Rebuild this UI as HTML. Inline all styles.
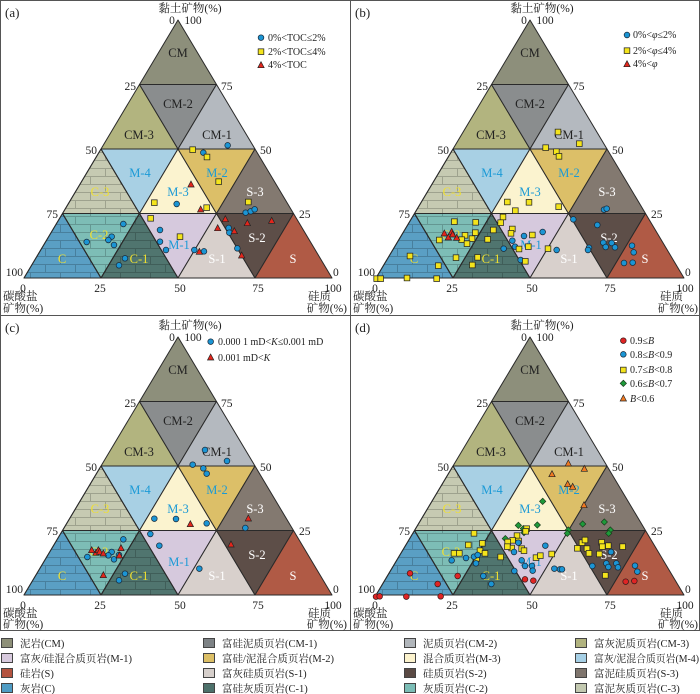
<!DOCTYPE html>
<html><head><meta charset="utf-8"><style>
html,body{margin:0;padding:0;background:#fff;}
svg{display:block;font-family:"Liberation Serif","Noto Serif CJK SC",serif;}
.tk{font-size:11.5px;fill:#222;}
.lb{font-size:12.5px;text-anchor:middle;}
.lg{font-size:10px;fill:#222;}
.leg{font-size:10.5px;fill:#222;}
</style></head><body>
<svg width="700" height="694" viewBox="0 0 700 694" xmlns="http://www.w3.org/2000/svg">
<defs>
<pattern id="brick" patternUnits="userSpaceOnUse" width="30" height="16">
<path d="M0,0.5H30M0,8.5H30M0.5,0V8.5M15.5,8.5V16" stroke="rgba(0,0,0,0.2)" stroke-width="1" fill="none"/>
</pattern>
<g id="tri" stroke="#2a2a2a" stroke-width="1" stroke-linejoin="round">
<polygon fill="#8d8f7b" points="178,20 139.5,84.5 216.5,84.5"/>
<polygon fill="#b2b47f" points="139.5,84.5 101,149 178,149"/>
<polygon fill="#8a8d8e" points="139.5,84.5 216.5,84.5 178,149"/>
<polygon fill="#b4b9bf" points="216.5,84.5 178,149 255,149"/>
<polygon fill="#c6cab2" points="101,149 62.5,213.5 139.5,213.5"/>
<polygon fill="#a8d0e4" points="101,149 178,149 139.5,213.5"/>
<polygon fill="#fbf3cf" points="178,149 139.5,213.5 216.5,213.5"/>
<polygon fill="#dcbf68" points="178,149 255,149 216.5,213.5"/>
<polygon fill="#837970" points="255,149 216.5,213.5 293.5,213.5"/>
<polygon fill="#5a9fc4" points="62.5,213.5 24,278 101,278"/>
<polygon fill="#7dbdb6" points="62.5,213.5 139.5,213.5 101,278"/>
<polygon fill="#50756f" points="139.5,213.5 101,278 178,278"/>
<polygon fill="#d6c9dd" points="139.5,213.5 216.5,213.5 178,278"/>
<polygon fill="#d8d0cc" points="216.5,213.5 178,278 255,278"/>
<polygon fill="#5d4e48" points="216.5,213.5 293.5,213.5 255,278"/>
<polygon fill="#b05a45" points="293.5,213.5 255,278 332,278"/>
<g stroke="none" fill="url(#brick)">
<polygon points="101,149 62.5,213.5 139.5,213.5"/>
<polygon points="62.5,213.5 24,278 101,278"/>
<polygon points="62.5,213.5 139.5,213.5 101,278"/>
<polygon points="139.5,213.5 101,278 178,278"/>
</g>
<g fill="none">
<polygon points="101,149 62.5,213.5 139.5,213.5"/>
<polygon points="62.5,213.5 24,278 101,278"/>
<polygon points="62.5,213.5 139.5,213.5 101,278"/>
<polygon points="139.5,213.5 101,278 178,278"/>
</g>
</g>
<circle id="c" r="8.5" fill="#1b95d4" stroke="#1a2a3a" stroke-width="2.2"/>
<circle id="r" r="8.5" fill="#e02424" stroke="#3a1a1a" stroke-width="2.2"/>
<rect id="s" x="-8.5" y="-8.5" width="17" height="17" fill="#f4e41c" stroke="#222" stroke-width="2.2"/>
<path id="t" d="M0,-10 L9.5,8 L-9.5,8Z" fill="#e3261c" stroke="#222" stroke-width="2"/>
<path id="o" d="M0,-10 L9.5,8 L-9.5,8Z" fill="#f07a22" stroke="#222" stroke-width="2"/>
<path id="g" d="M0,-9.5 L9.5,0 L0,9.5 L-9.5,0Z" fill="#1e9a3a" stroke="#1a3a1a" stroke-width="2"/>
</defs>
<rect x="0" y="0" width="700" height="694" fill="#fff"/>
<g stroke="#555" stroke-width="1" fill="none">
<rect x="0.5" y="0.5" width="699" height="630"/>
<line x1="350.5" y1="0" x2="350.5" y2="630"/>
<line x1="0" y1="315.5" x2="700" y2="315.5"/>
</g>

<!-- Panel A -->
<use href="#tri"/>
<g>
<text class="tk" x="190" y="12" text-anchor="middle">黏土矿物(%)</text>
<text class="tk" x="5" y="17" style="font-size:13px">(a)</text>
<text class="tk" x="172" y="24" text-anchor="middle">0</text><text class="tk" x="193" y="24" text-anchor="middle">100</text>
<text class="tk" x="136" y="90" text-anchor="end">25</text><text class="tk" x="97" y="154" text-anchor="end">50</text><text class="tk" x="58" y="218" text-anchor="end">75</text><text class="tk" x="23" y="276" text-anchor="end">100</text>
<text class="tk" x="221" y="90">75</text><text class="tk" x="260" y="154">50</text><text class="tk" x="299" y="218">25</text><text class="tk" x="333" y="276">0</text>
<text class="tk" x="23" y="292" text-anchor="middle">0</text><text class="tk" x="100" y="292" text-anchor="middle">25</text><text class="tk" x="180" y="292" text-anchor="middle">50</text><text class="tk" x="258" y="292" text-anchor="middle">75</text><text class="tk" x="333" y="292" text-anchor="middle">100</text>
<text class="tk" x="3" y="300">碳酸盐</text><text class="tk" x="3" y="312">矿物(%)</text>
<text class="tk" x="331" y="300" text-anchor="end">硅质</text><text class="tk" x="347" y="312" text-anchor="end">矿物(%)</text>
<text class="lb" x="178" y="57" fill="#222">CM</text><text class="lb" x="178" y="108" fill="#222">CM-2</text><text class="lb" x="139" y="139" fill="#222">CM-3</text><text class="lb" x="217" y="139" fill="#222">CM-1</text>
<text class="lb" x="140" y="177" fill="#1b9ad6">M-4</text><text class="lb" x="178" y="196" fill="#1b9ad6">M-3</text><text class="lb" x="217" y="177" fill="#1b9ad6">M-2</text><text class="lb" x="100" y="196" fill="#f0e030">C-3</text><text class="lb" x="255" y="196" fill="#fff">S-3</text>
<text class="lb" x="62" y="263" fill="#f0e030">C</text><text class="lb" x="99" y="239" fill="#f0e030">C-2</text><text class="lb" x="139" y="263" fill="#f0e030">C-1</text><text class="lb" x="179" y="249" fill="#1b9ad6">M-1</text><text class="lb" x="217" y="263" fill="#fff">S-1</text><text class="lb" x="257" y="242" fill="#fff">S-2</text><text class="lb" x="293" y="263" fill="#fff">S</text>
</g>
<g transform="scale(0.33333)">
<use href="#c" x="783" y="113"/><use href="#s" x="783" y="155"/><use href="#t" x="783" y="195"/>
<use href="#c" x="683" y="436"/><use href="#c" x="610" y="458"/><use href="#c" x="530" y="612"/><use href="#c" x="480" y="690"/><use href="#c" x="480" y="725"/><use href="#c" x="498" y="750"/><use href="#c" x="583" y="750"/><use href="#c" x="612" y="754"/><use href="#c" x="370" y="672"/><use href="#c" x="335" y="710"/><use href="#c" x="325" y="720"/><use href="#c" x="342" y="735"/><use href="#c" x="260" y="726"/><use href="#c" x="375" y="775"/><use href="#c" x="357" y="796"/><use href="#c" x="686" y="684"/><use href="#c" x="688" y="698"/><use href="#c" x="712" y="745"/><use href="#c" x="737" y="638"/><use href="#c" x="752" y="634"/><use href="#c" x="764" y="628"/>
<use href="#s" x="578" y="449"/><use href="#s" x="621" y="471"/><use href="#s" x="656" y="545"/><use href="#s" x="463" y="608"/><use href="#s" x="620" y="623"/><use href="#s" x="452" y="655"/><use href="#s" x="540" y="710"/><use href="#s" x="745" y="606"/>
<use href="#t" x="573" y="553"/><use href="#t" x="602" y="628"/><use href="#t" x="676" y="657"/><use href="#t" x="653" y="684"/><use href="#t" x="703" y="693"/><use href="#t" x="742" y="669"/><use href="#t" x="815" y="662"/><use href="#t" x="598" y="755"/><use href="#t" x="725" y="766"/>
</g>
<text class="lg" x="268" y="41">0%&lt;TOC≤2%</text><text class="lg" x="268" y="55">2%&lt;TOC≤4%</text><text class="lg" x="268" y="68">4%&lt;TOC</text>

<!-- Panel B -->
<use href="#tri" transform="translate(352,0)"/>
<g transform="translate(352,0)">
<text class="tk" x="190" y="12" text-anchor="middle">黏土矿物(%)</text>
<text class="tk" x="3" y="17" style="font-size:13px">(b)</text>
<text class="tk" x="172" y="24" text-anchor="middle">0</text><text class="tk" x="193" y="24" text-anchor="middle">100</text>
<text class="tk" x="136" y="90" text-anchor="end">25</text><text class="tk" x="97" y="154" text-anchor="end">50</text><text class="tk" x="58" y="218" text-anchor="end">75</text><text class="tk" x="23" y="276" text-anchor="end">100</text>
<text class="tk" x="221" y="90">75</text><text class="tk" x="260" y="154">50</text><text class="tk" x="299" y="218">25</text><text class="tk" x="333" y="276">0</text>
<text class="tk" x="23" y="292" text-anchor="middle">0</text><text class="tk" x="100" y="292" text-anchor="middle">25</text><text class="tk" x="180" y="292" text-anchor="middle">50</text><text class="tk" x="258" y="292" text-anchor="middle">75</text><text class="tk" x="333" y="292" text-anchor="middle">100</text>
<text class="tk" x="1" y="300">碳酸盐</text><text class="tk" x="1" y="312">矿物(%)</text>
<text class="tk" x="331" y="300" text-anchor="end">硅质</text><text class="tk" x="346" y="312" text-anchor="end">矿物(%)</text>
<text class="lb" x="178" y="57" fill="#222">CM</text><text class="lb" x="178" y="108" fill="#222">CM-2</text><text class="lb" x="139" y="139" fill="#222">CM-3</text><text class="lb" x="217" y="139" fill="#222">CM-1</text>
<text class="lb" x="140" y="177" fill="#1b9ad6">M-4</text><text class="lb" x="178" y="196" fill="#1b9ad6">M-3</text><text class="lb" x="217" y="177" fill="#1b9ad6">M-2</text><text class="lb" x="100" y="196" fill="#f0e030">C-3</text><text class="lb" x="255" y="196" fill="#fff">S-3</text>
<text class="lb" x="62" y="263" fill="#f0e030">C</text><text class="lb" x="99" y="239" fill="#f0e030">C-2</text><text class="lb" x="139" y="263" fill="#f0e030">C-1</text><text class="lb" x="179" y="249" fill="#1b9ad6">M-1</text><text class="lb" x="217" y="263" fill="#fff">S-1</text><text class="lb" x="257" y="242" fill="#fff">S-2</text><text class="lb" x="293" y="263" fill="#fff">S</text>
</g>
<g transform="translate(350,0) scale(0.33333)">
<use href="#c" x="831" y="105"/><use href="#s" x="831" y="152"/><use href="#t" x="831" y="192"/>
<use href="#c" x="578" y="696"/><use href="#c" x="522" y="708"/><use href="#c" x="487" y="722"/><use href="#c" x="495" y="740"/><use href="#c" x="461" y="746"/><use href="#c" x="512" y="780"/><use href="#c" x="620" y="750"/><use href="#c" x="670" y="658"/><use href="#c" x="742" y="675"/><use href="#c" x="760" y="728"/><use href="#c" x="785" y="729"/><use href="#c" x="767" y="741"/><use href="#c" x="795" y="742"/><use href="#c" x="717" y="743"/><use href="#c" x="714" y="750"/><use href="#c" x="762" y="629"/><use href="#c" x="770" y="626"/><use href="#c" x="846" y="737"/><use href="#c" x="851" y="757"/><use href="#c" x="822" y="789"/><use href="#c" x="848" y="788"/>
<use href="#s" x="624" y="396"/><use href="#s" x="688" y="431"/><use href="#s" x="587" y="443"/><use href="#s" x="619" y="455"/><use href="#s" x="627" y="469"/><use href="#s" x="472" y="606"/><use href="#s" x="537" y="607"/><use href="#s" x="626" y="620"/><use href="#s" x="496" y="632"/><use href="#s" x="459" y="651"/><use href="#s" x="452" y="668"/><use href="#s" x="487" y="687"/><use href="#s" x="483" y="700"/><use href="#s" x="430" y="690"/><use href="#s" x="313" y="665"/><use href="#s" x="377" y="667"/><use href="#s" x="376" y="698"/><use href="#s" x="345" y="706"/><use href="#s" x="335" y="719"/><use href="#s" x="366" y="716"/><use href="#s" x="351" y="731"/><use href="#s" x="268" y="720"/><use href="#s" x="318" y="773"/><use href="#s" x="383" y="772"/><use href="#s" x="367" y="795"/><use href="#s" x="413" y="718"/><use href="#s" x="547" y="705"/><use href="#s" x="535" y="740"/><use href="#s" x="507" y="747"/><use href="#s" x="526" y="784"/><use href="#s" x="594" y="746"/><use href="#s" x="180" y="768"/><use href="#s" x="265" y="797"/><use href="#s" x="80" y="836"/><use href="#s" x="92" y="836"/><use href="#s" x="171" y="834"/><use href="#s" x="260" y="836"/>
<use href="#t" x="283" y="700"/><use href="#t" x="295" y="712"/><use href="#t" x="305" y="695"/><use href="#t" x="320" y="713"/><use href="#t" x="308" y="703"/>
</g>
<text class="lg" x="633" y="38">0%&lt;<tspan font-style="italic">φ</tspan>≤2%</text><text class="lg" x="633" y="54">2%&lt;<tspan font-style="italic">φ</tspan>≤4%</text><text class="lg" x="633" y="67">4%&lt;<tspan font-style="italic">φ</tspan></text>

<!-- Panel C -->
<use href="#tri" transform="translate(0,317)"/>
<g transform="translate(0,317)">
<text class="tk" x="190" y="12" text-anchor="middle">黏土矿物(%)</text>
<text class="tk" x="5" y="15" style="font-size:13px">(c)</text>
<text class="tk" x="172" y="24" text-anchor="middle">0</text><text class="tk" x="193" y="24" text-anchor="middle">100</text>
<text class="tk" x="136" y="90" text-anchor="end">25</text><text class="tk" x="97" y="154" text-anchor="end">50</text><text class="tk" x="58" y="218" text-anchor="end">75</text><text class="tk" x="23" y="276" text-anchor="end">100</text>
<text class="tk" x="221" y="90">75</text><text class="tk" x="260" y="154">50</text><text class="tk" x="299" y="218">25</text><text class="tk" x="333" y="276">0</text>
<text class="tk" x="23" y="292" text-anchor="middle">0</text><text class="tk" x="100" y="292" text-anchor="middle">25</text><text class="tk" x="180" y="292" text-anchor="middle">50</text><text class="tk" x="258" y="292" text-anchor="middle">75</text><text class="tk" x="333" y="292" text-anchor="middle">100</text>
<text class="tk" x="3" y="300">碳酸盐</text><text class="tk" x="3" y="311">矿物(%)</text>
<text class="tk" x="331" y="300" text-anchor="end">硅质</text><text class="tk" x="347" y="311" text-anchor="end">矿物(%)</text>
<text class="lb" x="178" y="57" fill="#222">CM</text><text class="lb" x="178" y="108" fill="#222">CM-2</text><text class="lb" x="139" y="139" fill="#222">CM-3</text><text class="lb" x="217" y="139" fill="#222">CM-1</text>
<text class="lb" x="140" y="177" fill="#1b9ad6">M-4</text><text class="lb" x="178" y="196" fill="#1b9ad6">M-3</text><text class="lb" x="217" y="177" fill="#1b9ad6">M-2</text><text class="lb" x="100" y="196" fill="#f0e030">C-3</text><text class="lb" x="255" y="196" fill="#fff">S-3</text>
<text class="lb" x="62" y="263" fill="#f0e030">C</text><text class="lb" x="99" y="239" fill="#f0e030">C-2</text><text class="lb" x="139" y="263" fill="#f0e030">C-1</text><text class="lb" x="179" y="249" fill="#1b9ad6">M-1</text><text class="lb" x="217" y="263" fill="#fff">S-1</text><text class="lb" x="257" y="242" fill="#fff">S-2</text><text class="lb" x="293" y="263" fill="#fff">S</text>
</g>
<g transform="translate(0,300) scale(0.33333)">
<use href="#c" x="632" y="125"/><use href="#t" x="632" y="172"/>
<use href="#c" x="615" y="450"/><use href="#c" x="681" y="483"/><use href="#c" x="578" y="494"/><use href="#c" x="610" y="505"/><use href="#c" x="620" y="521"/><use href="#c" x="463" y="656"/><use href="#c" x="528" y="657"/><use href="#c" x="620" y="670"/><use href="#c" x="736" y="684"/><use href="#c" x="451" y="702"/><use href="#c" x="478" y="737"/><use href="#c" x="598" y="806"/><use href="#c" x="370" y="718"/><use href="#c" x="335" y="756"/><use href="#c" x="325" y="766"/><use href="#c" x="342" y="778"/><use href="#c" x="357" y="765"/><use href="#c" x="262" y="771"/><use href="#c" x="375" y="821"/><use href="#c" x="357" y="841"/>
<use href="#t" x="571" y="672"/><use href="#t" x="745" y="655"/><use href="#t" x="693" y="733"/><use href="#t" x="275" y="750"/><use href="#t" x="288" y="758"/><use href="#t" x="295" y="750"/><use href="#t" x="299" y="755"/><use href="#t" x="310" y="760"/><use href="#t" x="363" y="744"/><use href="#t" x="358" y="766"/><use href="#t" x="310" y="825"/>
</g>
<text class="lg" x="218" y="345">0.000 1 mD&lt;<tspan font-style="italic">K</tspan>≤0.001 mD</text><text class="lg" x="218" y="361">0.001 mD&lt;<tspan font-style="italic">K</tspan></text>

<!-- Panel D -->
<use href="#tri" transform="translate(352,317)"/>
<g transform="translate(352,317)">
<text class="tk" x="190" y="12" text-anchor="middle">黏土矿物(%)</text>
<text class="tk" x="3" y="15" style="font-size:13px">(d)</text>
<text class="tk" x="172" y="24" text-anchor="middle">0</text><text class="tk" x="193" y="24" text-anchor="middle">100</text>
<text class="tk" x="136" y="90" text-anchor="end">25</text><text class="tk" x="97" y="154" text-anchor="end">50</text><text class="tk" x="58" y="218" text-anchor="end">75</text><text class="tk" x="23" y="276" text-anchor="end">100</text>
<text class="tk" x="221" y="90">75</text><text class="tk" x="260" y="154">50</text><text class="tk" x="299" y="218">25</text><text class="tk" x="333" y="276">0</text>
<text class="tk" x="23" y="292" text-anchor="middle">0</text><text class="tk" x="100" y="292" text-anchor="middle">25</text><text class="tk" x="180" y="292" text-anchor="middle">50</text><text class="tk" x="258" y="292" text-anchor="middle">75</text><text class="tk" x="333" y="292" text-anchor="middle">100</text>
<text class="tk" x="1" y="300">碳酸盐</text><text class="tk" x="1" y="311">矿物(%)</text>
<text class="tk" x="331" y="300" text-anchor="end">硅质</text><text class="tk" x="346" y="311" text-anchor="end">矿物(%)</text>
<text class="lb" x="178" y="57" fill="#222">CM</text><text class="lb" x="178" y="108" fill="#222">CM-2</text><text class="lb" x="139" y="139" fill="#222">CM-3</text><text class="lb" x="217" y="139" fill="#222">CM-1</text>
<text class="lb" x="140" y="177" fill="#1b9ad6">M-4</text><text class="lb" x="178" y="196" fill="#1b9ad6">M-3</text><text class="lb" x="217" y="177" fill="#1b9ad6">M-2</text><text class="lb" x="100" y="196" fill="#f0e030">C-3</text><text class="lb" x="255" y="196" fill="#fff">S-3</text>
<text class="lb" x="62" y="263" fill="#f0e030">C</text><text class="lb" x="99" y="239" fill="#f0e030">C-2</text><text class="lb" x="139" y="263" fill="#f0e030">C-1</text><text class="lb" x="179" y="249" fill="#1b9ad6">M-1</text><text class="lb" x="217" y="263" fill="#fff">S-1</text><text class="lb" x="257" y="242" fill="#fff">S-2</text><text class="lb" x="293" y="263" fill="#fff">S</text>
</g>
<g transform="translate(350,300) scale(0.33333)">
<use href="#r" x="820" y="122"/><use href="#c" x="820" y="163"/><use href="#s" x="820" y="210"/><use href="#g" x="820" y="250"/><use href="#o" x="820" y="295"/>
<use href="#o" x="655" y="490"/><use href="#o" x="703" y="506"/><use href="#o" x="606" y="522"/><use href="#o" x="653" y="552"/><use href="#o" x="668" y="560"/><use href="#o" x="702" y="615"/>
<use href="#g" x="578" y="604"/><use href="#g" x="505" y="676"/><use href="#g" x="562" y="675"/><use href="#g" x="522" y="698"/><use href="#g" x="520" y="686"/><use href="#g" x="655" y="690"/><use href="#g" x="652" y="700"/><use href="#g" x="698" y="672"/><use href="#g" x="763" y="666"/><use href="#g" x="781" y="690"/><use href="#g" x="776" y="700"/><use href="#g" x="466" y="716"/><use href="#g" x="500" y="723"/>
<use href="#s" x="372" y="700"/><use href="#s" x="355" y="735"/><use href="#s" x="397" y="730"/><use href="#s" x="390" y="752"/><use href="#s" x="405" y="760"/><use href="#s" x="380" y="775"/><use href="#s" x="312" y="760"/><use href="#s" x="328" y="760"/><use href="#s" x="452" y="771"/><use href="#s" x="530" y="686"/><use href="#s" x="527" y="694"/><use href="#s" x="501" y="707"/><use href="#s" x="488" y="721"/><use href="#s" x="506" y="723"/><use href="#s" x="473" y="726"/><use href="#s" x="485" y="744"/><use href="#s" x="515" y="746"/><use href="#s" x="522" y="752"/><use href="#s" x="558" y="773"/><use href="#s" x="571" y="767"/><use href="#s" x="605" y="762"/><use href="#s" x="682" y="745"/><use href="#s" x="696" y="728"/><use href="#s" x="705" y="720"/><use href="#s" x="711" y="746"/><use href="#s" x="717" y="760"/><use href="#s" x="755" y="727"/><use href="#s" x="775" y="737"/><use href="#s" x="757" y="740"/><use href="#s" x="748" y="762"/><use href="#s" x="818" y="740"/><use href="#s" x="766" y="826"/><use href="#s" x="472" y="740"/>
<use href="#c" x="586" y="737"/><use href="#c" x="505" y="728"/><use href="#c" x="492" y="756"/><use href="#c" x="515" y="781"/><use href="#c" x="525" y="798"/><use href="#c" x="546" y="798"/><use href="#c" x="548" y="812"/><use href="#c" x="493" y="813"/><use href="#c" x="613" y="806"/><use href="#c" x="630" y="808"/><use href="#c" x="636" y="808"/><use href="#c" x="400" y="828"/><use href="#c" x="424" y="852"/><use href="#c" x="372" y="770"/><use href="#c" x="348" y="774"/><use href="#c" x="305" y="781"/><use href="#c" x="378" y="790"/><use href="#c" x="383" y="765"/><use href="#c" x="727" y="798"/><use href="#c" x="769" y="790"/><use href="#c" x="775" y="801"/><use href="#c" x="799" y="790"/><use href="#c" x="804" y="802"/><use href="#c" x="855" y="797"/><use href="#c" x="862" y="815"/><use href="#c" x="783" y="756"/>
<use href="#r" x="180" y="820"/><use href="#r" x="263" y="852"/><use href="#r" x="323" y="828"/><use href="#r" x="78" y="890"/><use href="#r" x="89" y="889"/><use href="#r" x="169" y="890"/><use href="#r" x="272" y="889"/><use href="#r" x="525" y="838"/><use href="#r" x="550" y="842"/><use href="#r" x="827" y="845"/><use href="#r" x="853" y="843"/>
</g>
<text class="lg" x="630" y="344">0.9≤<tspan font-style="italic">B</tspan></text>
<text class="lg" x="630" y="358">0.8≤<tspan font-style="italic">B</tspan>&lt;0.9</text>
<text class="lg" x="630" y="373">0.7≤<tspan font-style="italic">B</tspan>&lt;0.8</text>
<text class="lg" x="630" y="387">0.6≤<tspan font-style="italic">B</tspan>&lt;0.7</text>
<text class="lg" x="630" y="402"><tspan font-style="italic">B</tspan>&lt;0.6</text>

<!-- Bottom legend -->
<g stroke="#444" stroke-width="1">
<rect x="1.5" y="638.5" width="11" height="9" fill="#8d8f78"/>
<rect x="203.5" y="638.5" width="11" height="9" fill="#7d8285"/>
<rect x="404.5" y="638.5" width="11" height="9" fill="#b1b6bb"/>
<rect x="575.5" y="638.5" width="11" height="9" fill="#b1b37f"/>
<rect x="1.5" y="653.5" width="11" height="9" fill="#d8cade"/>
<rect x="203.5" y="653.5" width="11" height="9" fill="#dcbf66"/>
<rect x="404.5" y="653.5" width="11" height="9" fill="#fcf3cd"/>
<rect x="575.5" y="653.5" width="11" height="9" fill="#a6d0e6"/>
<rect x="1.5" y="668.5" width="11" height="9" fill="#b4533f"/>
<rect x="203.5" y="668.5" width="11" height="9" fill="#d6cfcb"/>
<rect x="404.5" y="668.5" width="11" height="9" fill="#5a4a44"/>
<rect x="575.5" y="668.5" width="11" height="9" fill="#7f756d"/>
<rect x="1.5" y="683.5" width="11" height="9" fill="#4f9cc4"/>
<rect x="203.5" y="683.5" width="11" height="9" fill="#4d716b"/>
<rect x="404.5" y="683.5" width="11" height="9" fill="#7bbdb6"/>
<rect x="575.5" y="683.5" width="11" height="9" fill="#c3c9b0"/>
</g>
<text class="leg" x="20" y="647">泥岩(CM)</text><text class="leg" x="222" y="647">富硅泥质页岩(CM-1)</text><text class="leg" x="423" y="647">泥质页岩(CM-2)</text><text class="leg" x="594" y="647">富灰泥质页岩(CM-3)</text>
<text class="leg" x="20" y="662">富灰/硅混合质页岩(M-1)</text><text class="leg" x="222" y="662">富硅/泥混合质页岩(M-2)</text><text class="leg" x="423" y="662">混合质页岩(M-3)</text><text class="leg" x="594" y="662" textLength="105" lengthAdjust="spacingAndGlyphs">富灰/泥混合质页岩(M-4)</text>
<text class="leg" x="20" y="677">硅岩(S)</text><text class="leg" x="222" y="677">富灰硅质页岩(S-1)</text><text class="leg" x="423" y="677">硅质页岩(S-2)</text><text class="leg" x="594" y="677">富泥硅质页岩(S-3)</text>
<text class="leg" x="20" y="692">灰岩(C)</text><text class="leg" x="222" y="692">富硅灰质页岩(C-1)</text><text class="leg" x="423" y="692">灰质页岩(C-2)</text><text class="leg" x="594" y="692">富泥灰质页岩(C-3)</text>
</svg>
</body></html>
